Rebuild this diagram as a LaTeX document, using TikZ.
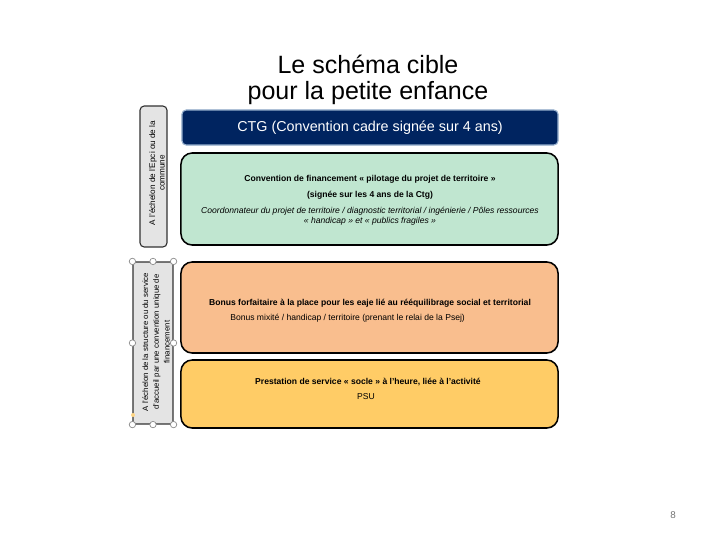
\documentclass[tikz,border=0pt]{standalone}
\usepackage{fontspec}
\setmainfont{Liberation Sans}
\definecolor{ctgnavy}{RGB}{0,36,96}
\definecolor{ctgedge}{RGB}{150,175,205}
\definecolor{mint}{RGB}{192,230,208}
\definecolor{peach}{RGB}{249,190,142}
\definecolor{sun}{RGB}{255,204,102}
\definecolor{side}{RGB}{228,228,228}
\tikzset{
  band/.style={draw=black, line width=1.1pt, rounded corners=8pt, inner sep=0pt, minimum width=9.425cm},
  sidebox/.style={draw=black!80, line width=0.8pt, fill=side, rounded corners=3pt, inner sep=0pt},
  bandtitle/.style={font=\fontsize{6.1}{7}\selectfont\bfseries, inner sep=0pt},
  bandnote/.style={font=\fontsize{6.1}{7.1}\selectfont, inner sep=0pt, align=center},
  sidenote/.style={font=\fontsize{5.55}{7.6}\selectfont, rotate=90, align=center, inner sep=0pt},
  grip/.style={circle, draw=black!45, fill=white, line width=0.5pt, minimum size=0.16cm, inner sep=0pt},
}
\begin{document}
\begin{tikzpicture}[x=0.025cm, y=-0.025cm]
\useasboundingbox (0,0) rectangle (720,540);
% title
\node (title) [font=\fontsize{17.8}{18.8}\selectfont, align=center] at (368,80) {Le schéma cible\\pour la petite enfance};
% CTG
\node (ctg) [draw=ctgedge, line width=0.8pt, fill=ctgnavy, rounded corners=3pt, minimum width=9.4cm, minimum height=0.875cm, text=white, font=\fontsize{10.2}{12}\selectfont] at (370,127.5) {CTG (Convention cadre signée sur 4 ans)};
% three bands
\node (green) [band, fill=mint, minimum height=2.3cm] at (369.5,199) {};
\node (orange) [band, fill=peach, minimum height=2.275cm] at (369.5,307.5) {};
\node (yellow) [band, fill=sun, minimum height=1.7cm] at (369.5,394) {};
% green texts
\node (greenA) [bandtitle] at (370,179) {Convention de financement « pilotage du projet de territoire »};
\node (greenB) [bandtitle] at (370,195) {(signée sur les 4 ans de la Ctg)};
\node (greenC) [bandnote, font=\fontsize{6.1}{7.1}\selectfont\itshape] at (370,216) {Coordonnateur du projet de territoire / diagnostic territorial / ingénierie / Pôles ressources\\« handicap » et « publics fragiles »};
% orange texts
\node (orangeA) [bandtitle] at (370,303) {Bonus forfaitaire à la place pour les eaje lié au rééquilibrage social et territorial};
\node (orangeB) [bandnote, anchor=west] at (230,318) {Bonus mixité / handicap / territoire (prenant le relai de la Psej)};
% yellow texts
\node (yellowA) [bandtitle] at (368,382) {Prestation de service « socle » à l'heure, liée à l'activité};
\node (yellowB) [bandnote] at (366,397) {PSU};
% side boxes
\node (sidetop) [sidebox, minimum width=0.675cm, minimum height=3.525cm] at (153.5,176.5) {};
\node (sidetoptext) [sidenote, font=\fontsize{5.8}{6.8}\selectfont] at (157,173) {A l'échelon de l'Epci ou de la\\commune};
\node (sidelow) [sidebox, minimum width=1cm, minimum height=4.05cm, rounded corners=1pt] at (153,343) {};
\node (sidelowtext) [sidenote] at (156,342) {A l'échelon de la structure ou du service\\d'accueil par une convention unique de\\financement};
\foreach \a in {north west,north,north east,west,east,south west,south,south east}
  \node [grip] at (sidelow.\a) {};
\node (turn) [circle, fill=sun!80!white, minimum size=0.1cm, inner sep=0pt] at (133,415) {};
% page number
\node (page) [text=black!55, font=\fontsize{7}{8}\selectfont] at (673,515) {8};
\end{tikzpicture}
\end{document}
